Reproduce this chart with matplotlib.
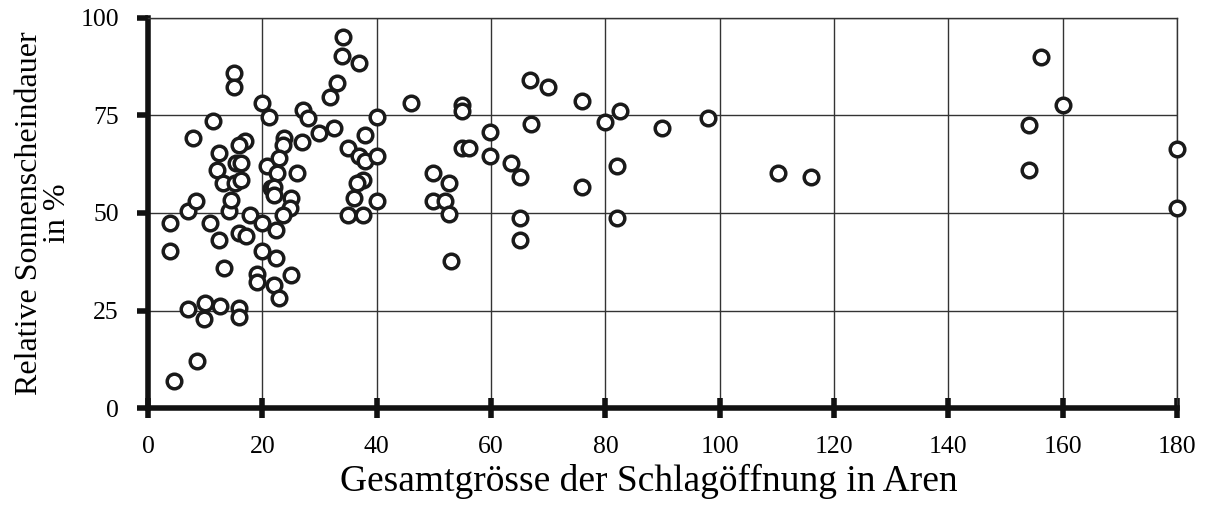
import matplotlib
matplotlib.use('Agg')
import matplotlib.pyplot as plt

# Gesamtgrösse der Schlagöffnung (Aren) und relative Sonnenscheindauer (%)
schlag_aren = [
    4.5, 8.6, 9.8, 10.0, 7.0, 12.6, 15.9, 15.9, 3.8, 3.8,
    7.0, 8.4, 10.8, 12.4, 13.3, 14.2, 14.5, 17.8, 19.9, 15.9,
    17.1, 19.9, 19.1, 19.1, 15.0, 15.0, 19.9, 21.2, 11.4, 7.9,
    17.0, 15.9, 12.4, 15.4, 16.3, 20.8, 12.1, 13.1, 15.2, 16.3,
    21.5, 34.1, 33.9, 36.9, 33.0, 31.8, 27.1, 28.0, 29.9, 32.5,
    23.8, 23.6, 26.9, 22.9, 22.6, 26.0, 22.0, 22.0, 25.0, 24.8,
    23.6, 22.4, 22.4, 25.0, 22.0, 22.9, 37.9, 35.0, 36.9, 37.9,
    40.0, 40.0, 46.0, 37.6, 36.5, 36.0, 40.0, 35.0, 37.6, 49.8,
    49.8, 66.8, 69.9, 75.9, 54.9, 54.9, 59.8, 67.0, 79.9, 82.5,
    89.9, 54.9, 56.1, 59.8, 63.5, 65.0, 52.6, 51.9, 52.6, 65.0,
    65.0, 53.0, 82.0, 75.9, 82.0, 98.0, 110.1, 116.0, 156.1, 160.0,
    154.1, 154.1, 180.0, 180.0,
]
sonnenschein = [
    6.9, 12.1, 22.8, 26.9, 25.4, 26.2, 25.6, 23.3, 47.4, 40.3,
    50.5, 53.0, 47.4, 43.1, 35.9, 50.5, 53.3, 49.5, 47.4, 44.9,
    44.1, 40.3, 34.4, 32.3, 85.9, 82.3, 78.2, 74.6, 73.6, 69.2,
    68.5, 67.4, 65.4, 62.8, 62.8, 62.1, 61.0, 57.7, 57.7, 58.5,
    56.4, 95.1, 90.3, 88.5, 83.3, 79.7, 76.4, 74.4, 70.5, 71.8,
    69.2, 67.4, 68.2, 64.1, 60.3, 60.3, 56.7, 54.6, 53.8, 51.3,
    49.5, 45.6, 38.5, 34.1, 31.5, 28.2, 70.0, 66.7, 64.6, 63.3,
    64.6, 74.6, 78.2, 58.5, 57.7, 53.8, 53.1, 49.5, 49.5, 60.3,
    53.0, 84.1, 82.3, 78.7, 77.7, 76.2, 70.8, 72.8, 73.3, 76.2,
    71.8, 66.7, 66.7, 64.6, 62.8, 59.2, 57.7, 53.1, 49.7, 48.7,
    43.1, 37.7, 62.1, 56.7, 48.7, 74.3, 60.2, 59.2, 90.1, 77.8,
    72.5, 61.0, 66.4, 51.3,
]

x_ticks = [0, 20, 40, 60, 80, 100, 120, 140, 160, 180]
y_ticks = [0, 25, 50, 75, 100]

plt.rcParams['font.family'] = ['Liberation Serif', 'DejaVu Serif']

fig = plt.figure(figsize=(12.08, 5.12), dpi=100)
ax = fig.add_axes([0.1225, 0.203, 0.852, 0.762])

ax.plot(schlag_aren, sonnenschein, linestyle='none', marker='o',
        markersize=10.5, markerfacecolor='white', markeredgecolor='#1a1a1a',
        markeredgewidth=2.5, zorder=3, clip_on=False)

ax.set_xlim(0, 180)
ax.set_ylim(0, 100)
ax.set_xticks(x_ticks)
ax.set_yticks(y_ticks)
ax.grid(True, color='#333333', linewidth=1.0)
ax.set_axisbelow(True)

for side in ['top', 'right']:
    ax.spines[side].set_linewidth(1.0)
    ax.spines[side].set_color('#333333')
for side in ['left', 'bottom']:
    ax.spines[side].set_linewidth(4)
    ax.spines[side].set_color('#111111')

ax.tick_params(axis='y', direction='out', length=8, width=4,
               color='#111111', labelsize=18.5, pad=13)
ax.tick_params(axis='x', direction='inout', length=14, width=4,
               color='#111111', labelsize=18.5, pad=13)

ax.set_xlabel('Gesamtgrösse der Schlagöffnung in Aren', fontsize=27, labelpad=4)
ax.xaxis.label.set_x(0.487)
ax.set_ylabel('Relative Sonnenscheindauer\nin %', fontsize=23, labelpad=6,
              linespacing=0.95)

fig.savefig('out.png', dpi=100)
